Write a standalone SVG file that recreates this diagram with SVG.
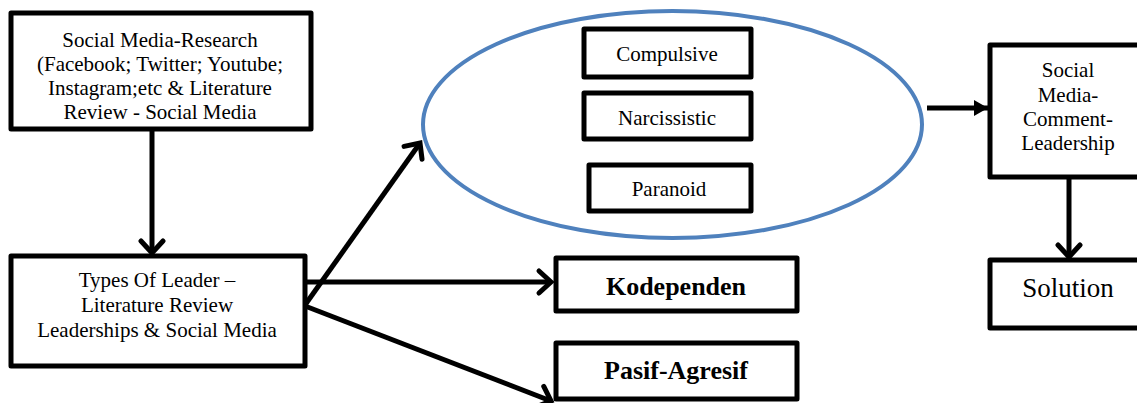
<svg xmlns="http://www.w3.org/2000/svg" width="1137" height="403" viewBox="0 0 1137 403">
<style>
.box{fill:#fff;stroke:#000;stroke-width:5;stroke-linejoin:round}
.t{font-family:"Liberation Serif","Times New Roman",serif;font-size:21px;fill:#000;text-anchor:middle}
.b{font-family:"Liberation Serif","Times New Roman",serif;font-size:26px;font-weight:bold;fill:#000;text-anchor:middle}
.l{font-family:"Liberation Serif","Times New Roman",serif;font-size:27px;fill:#000;text-anchor:middle}
.c{fill:none;stroke:#000;stroke-width:5}
</style>
<defs>
<marker id="open" markerUnits="userSpaceOnUse" viewBox="-14 -12 16 24" refX="0" refY="0" markerWidth="16" markerHeight="24" orient="auto" overflow="visible">
<path d="M-12,-11 L0,0 L-12,11" fill="none" stroke="#000" stroke-width="5" stroke-linecap="round" stroke-linejoin="miter"/>
</marker>
<marker id="solid" markerUnits="userSpaceOnUse" viewBox="-14 -8 16 16" refX="0" refY="0" markerWidth="16" markerHeight="16" orient="auto" overflow="visible">
<path d="M-14,-8 L0,0 L-14,8 Z" fill="#000"/>
</marker>
</defs>
<g id="connectors">
<line class="c" x1="152" y1="131" x2="152" y2="253" marker-end="url(#open)"/>
<line class="c" x1="305" y1="305" x2="420" y2="143" marker-end="url(#open)"/>
<line class="c" x1="305" y1="282" x2="551" y2="282" marker-end="url(#open)"/>
<line class="c" x1="305" y1="306" x2="551" y2="401" marker-end="url(#open)"/>
<line class="c" x1="927" y1="108" x2="988" y2="108" marker-end="url(#solid)"/>
<line class="c" x1="1069" y1="178" x2="1069" y2="257" marker-end="url(#open)"/>
</g>
<g id="research">
<rect class="box" x="11" y="13" width="300" height="116"/>
<text class="t" x="160" y="47">Social Media-Research</text>
<text class="t" x="160" y="71">(Facebook; Twitter; Youtube;</text>
<text class="t" x="160" y="95">Instagram;etc &amp; Literature</text>
<text class="t" x="160" y="119">Review - Social Media</text>
</g>
<g id="types">
<rect class="box" x="11" y="256" width="294" height="110"/>
<text class="t" x="157" y="287">Types Of Leader –</text>
<text class="t" x="157" y="312">Literature Review</text>
<text class="t" x="157" y="337">Leaderships &amp; Social Media</text>
</g>
<g id="ellipse">
<ellipse cx="672.5" cy="124.5" rx="249.5" ry="113.5" fill="none" stroke="#4F81BD" stroke-width="4"/>
</g>
<g id="compulsive">
<rect class="box" x="584" y="29" width="167" height="48"/>
<text class="t" x="667" y="61">Compulsive</text>
</g>
<g id="narcissistic">
<rect class="box" x="584" y="93" width="167" height="46"/>
<text class="t" x="667" y="125">Narcissistic</text>
</g>
<g id="paranoid">
<rect class="box" x="589" y="165" width="162" height="46"/>
<text class="t" x="669" y="196">Paranoid</text>
</g>
<g id="kodependen">
<rect class="box" x="556" y="258" width="241" height="53"/>
<text class="b" x="676" y="295">Kodependen</text>
</g>
<g id="pasif">
<rect class="box" x="556" y="343" width="241" height="56"/>
<text class="b" x="676" y="379">Pasif-Agresif</text>
</g>
<g id="comment">
<rect class="box" x="990" y="45" width="160" height="132"/>
<text class="t" x="1068" y="77">Social</text>
<text class="t" x="1068" y="102">Media-</text>
<text class="t" x="1068" y="126">Comment-</text>
<text class="t" x="1068" y="150">Leadership</text>
</g>
<g id="solution">
<rect class="box" x="990" y="260" width="160" height="68"/>
<text class="l" x="1068" y="297">Solution</text>
</g>
</svg>
